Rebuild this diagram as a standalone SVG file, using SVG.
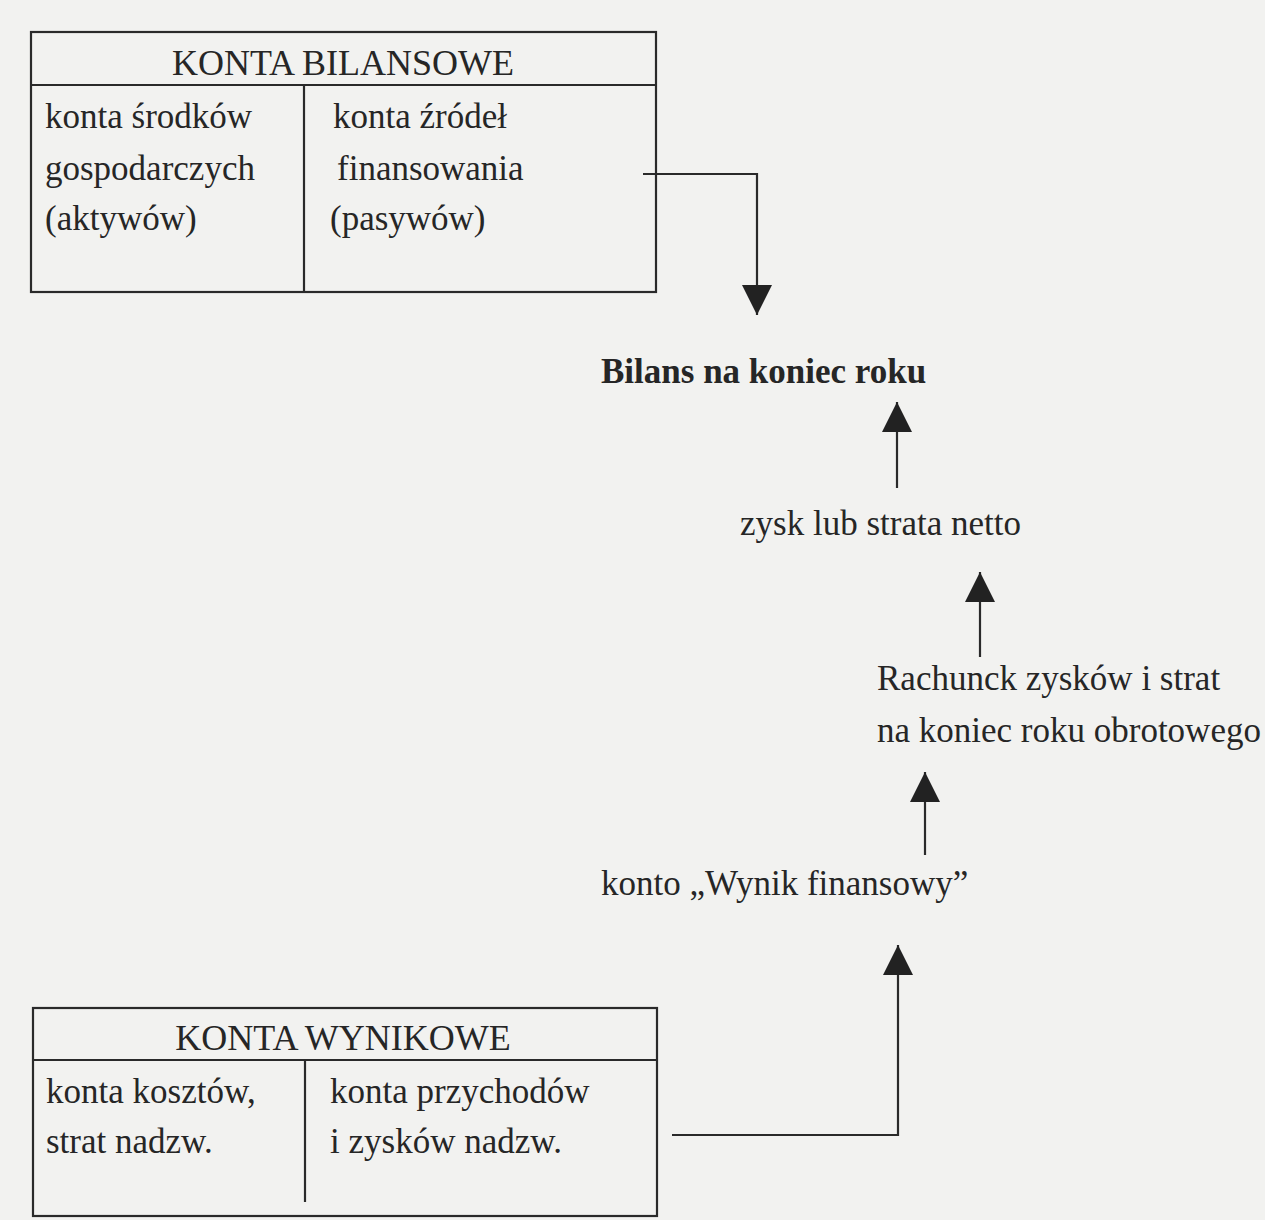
<svg xmlns="http://www.w3.org/2000/svg" width="1265" height="1220" viewBox="0 0 1265 1220">
<style>
.t{font-family:"Liberation Serif","Times New Roman",serif;font-size:35px;fill:#262626}
.h{font-size:36px}
.c{text-anchor:middle}
.b{font-weight:bold}
.ln{stroke:#2a2a2a;stroke-width:2.2;fill:none}
</style>
<defs>
<marker id="ah" markerWidth="30" markerHeight="30" viewBox="0 0 30 30" refX="30" refY="15" orient="auto" markerUnits="userSpaceOnUse">
<path d="M0,0 L30,15 L0,30 Z" fill="#222"/>
</marker>
</defs>
<rect width="1265" height="1220" fill="#f2f2f0"/>
<g id="konta-bilansowe">
<rect class="ln" x="31" y="32" width="625" height="260"/>
<line class="ln" x1="31" y1="85" x2="656" y2="85"/>
<line class="ln" x1="304" y1="85" x2="304" y2="292"/>
<text class="t h c" x="343" y="75">KONTA BILANSOWE</text>
<text class="t" x="45" y="128">konta środków</text>
<text class="t" x="45" y="180">gospodarczych</text>
<text class="t" x="45" y="230">(aktywów)</text>
<text class="t" x="333" y="128">konta źródeł</text>
<text class="t" x="337" y="180">finansowania</text>
<text class="t" x="330" y="230">(pasywów)</text>
</g>
<g id="bilans">
<text class="t b" x="601" y="383">Bilans na koniec roku</text>
</g>
<g id="zysk">
<text class="t" x="740" y="535">zysk lub strata netto</text>
</g>
<g id="rachunek">
<text class="t" x="877" y="690">Rachunck zysków i strat</text>
<text class="t" x="877" y="742">na koniec roku obrotowego</text>
</g>
<g id="wynik">
<text class="t" x="601" y="895">konto „Wynik finansowy”</text>
</g>
<g id="konta-wynikowe">
<rect class="ln" x="33" y="1008" width="624" height="208"/>
<line class="ln" x1="33" y1="1060" x2="657" y2="1060"/>
<line class="ln" x1="305" y1="1060" x2="305" y2="1202"/>
<text class="t h c" x="343" y="1050">KONTA WYNIKOWE</text>
<text class="t" x="46" y="1103">konta kosztów,</text>
<text class="t" x="46" y="1153">strat nadzw.</text>
<text class="t" x="330" y="1103">konta przychodów</text>
<text class="t" x="330" y="1153">i zysków nadzw.</text>
</g>
<g id="connectors">
<path class="ln" d="M643,174 H757 V315" marker-end="url(#ah)"/>
<path class="ln" d="M897,488 V402" marker-end="url(#ah)"/>
<path class="ln" d="M980,657 V572" marker-end="url(#ah)"/>
<path class="ln" d="M925,855 V772" marker-end="url(#ah)"/>
<path class="ln" d="M672,1135 H898 V945" marker-end="url(#ah)"/>
</g>
</svg>
